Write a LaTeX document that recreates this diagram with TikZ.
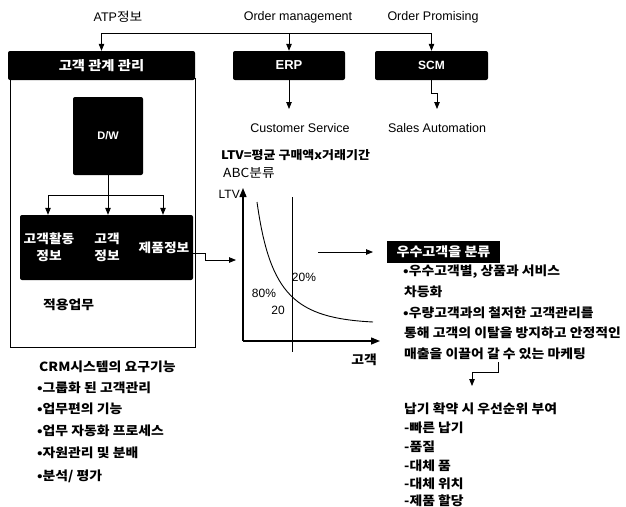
\documentclass[tikz,border=0pt]{standalone}
\usepackage{fontspec}
\setmainfont{Liberation Sans}
\newfontfamily\kr[FakeStretch=1.1]{Noto Sans CJK KR}
\usetikzlibrary{arrows.meta}
\begin{document}
\begin{tikzpicture}[x=1pt,y=-1pt,
  blackbox/.style={fill=black,text=white,rounded corners=2pt,inner sep=0pt},
  lat/.style={font=\fontsize{12.5}{14}\selectfont,inner sep=0pt},
  krl/.style={font=\kr\bfseries\fontsize{12.6}{14}\selectfont,inner sep=0pt,anchor=west},
  krc/.style={font=\kr\bfseries\fontsize{12.5}{17}\selectfont,inner sep=0pt,align=center,text=white},
  arr/.style={-{Triangle[length=7pt,width=5.5pt]},line width=0.8pt},
  ln/.style={line width=0.8pt}]
\useasboundingbox (0,0) rectangle (626,506);

% top labels
\node[lat] (atp) at (118,17) {ATP{\kr 정보}};
\node[lat] (om) at (298,17) {Order management};
\node[lat] (op) at (433,17) {Order Promising};

% big frame
\draw[ln] (10,78) rectangle (195,347);

% top black boxes
\node[blackbox,minimum width=187,minimum height=29,font=\kr\bfseries\fontsize{13}{15}\selectfont] (crm) at (101.5,65.5) {고객 관계 관리};
\node[blackbox,minimum width=112,minimum height=29,font=\bfseries\fontsize{13}{15}\selectfont] (erp) at (289,65.5) {ERP};
\node[blackbox,minimum width=113,minimum height=29,font=\bfseries\fontsize{12}{14}\selectfont] (scm) at (431.5,65.5) {SCM};

% top distribution line
\coordinate (jl) at (101.5,33);
\coordinate (jr) at (431.5,33);
\draw[ln] (jl) -- (jr);
\draw[arr] (jl) -- (crm.north);
\draw[arr] (erp.north |- jl) -- (erp.north);
\draw[arr] (jr) -- (scm.north);

% outputs of ERP / SCM
\node[lat] (cs) at (300,128) {Customer Service};
\node[lat] (sa) at (437,128) {Sales Automation};
\coordinate (csTip) at (289,109);
\coordinate (saTip) at (437,109);
\draw[arr] (erp.south) -- (csTip);
\draw[arr] (scm.south) -- ++(0,13) -| (saTip);

% D/W
\node[blackbox,minimum width=70,minimum height=78,font=\bfseries\fontsize{11}{13}\selectfont] (dw) at (108,136) {D/W};

% info box
\node[blackbox,minimum width=173,minimum height=65] (info) at (106.5,247.5) {};
\node[krc] (i1) at (49,247) {고객활동\\정보};
\node[krc] (i2) at (107,247) {고객\\정보};
\node[krc] (i3) at (164,248) {제품정보};

\coordinate (b1) at (48,195);
\coordinate (b2) at (108,195);
\coordinate (b3) at (163,195);
\draw[ln] (dw.south) -- (b2);
\draw[ln] (b1) -- (b3);
\draw[arr] (b1) -- (b1 |- info.north);
\draw[arr] (b2) -- (b2 |- info.north);
\draw[arr] (b3) -- (b3 |- info.north);

\node[krl] (apply) at (43,305) {적용업무};

% link to graph
\coordinate (gIn) at (236,260);
\draw[arr] (info.east |- 0,253) -- (205,253) -- (205,260) -- (gIn);

% graph
\node[krl,font=\kr\bfseries\fontsize{11.8}{14}\selectfont] (ltvf) at (221,155) {LTV=평균 구매액x거래기간};
\node[krl,font=\kr\fontsize{12.5}{14}\selectfont] (abc) at (223,173) {ABC분류};
\coordinate (org) at (243,341);
\coordinate (ytop) at (243,188);
\coordinate (xend) at (380,341);
\draw[-{Triangle[length=9pt,width=7pt]},line width=1.4pt] (org) -- (ytop);
\draw[-{Triangle[length=9pt,width=7pt]},line width=1.4pt] (org) -- (xend);
\node[lat,anchor=east,font=\fontsize{12}{14}\selectfont] (ltv) at (240,194) {LTV};
\coordinate (vt) at (292,197);
\coordinate (vb) at (292,352);
\draw[ln] (vt) -- (vb);
\draw[line width=0.9pt] (257,202) .. controls (270,295) and (295,318) .. (373,322);
\node[lat,font=\fontsize{12}{14}\selectfont] (p20) at (304,277) {20\%};
\node[lat,font=\fontsize{12}{14}\selectfont] (p80) at (264,293) {80\%};
\node[lat,font=\fontsize{12}{14}\selectfont] (n20) at (278,310) {20};
\node[krl,anchor=center] (cust) at (364,360) {고객};

\coordinate (ga) at (318,252);
\coordinate (gb) at (373,252);
\draw[arr] (ga) -- (gb);

% right side
\node[blackbox,rounded corners=0pt,minimum width=113,minimum height=22,font=\kr\bfseries\fontsize{12.8}{14}\selectfont] (vip) at (443.5,252) {우수고객을 분류};
\node[krl] (r1) at (403,272) {•우수고객별, 상품과 서비스};
\node[krl] (r2) at (404,292) {차등화};
\node[krl] (r3) at (403,313) {•우량고객과의 철저한 고객관리를};
\node[krl] (r4) at (404,333) {통해 고객의 이탈을 방지하고 안정적인};
\node[krl] (r5) at (404,354) {매출을 이끌어 갈 수 있는 마케팅};
\coordinate (ra) at (498,362);
\coordinate (rb) at (472,386);
\draw[arr] (ra) -- (498,372) -| (rb);
\node[krl] (d0) at (404,409) {납기 확약 시 우선순위 부여};
\node[krl] (d1) at (404,428) {-빠른 납기};
\node[krl] (d2) at (404,447) {-품질};
\node[krl] (d3) at (404,466) {-대체 품};
\node[krl] (d4) at (404,484) {-대체 위치};
\node[krl] (d5) at (404,501) {-제품 할당};

% bottom left
\node[krl] (req) at (39,367) {CRM시스템의 요구기능};
\node[krl] (q1) at (37,388) {•그룹화 된 고객관리};
\node[krl] (q2) at (37,409) {•업무편의 기능};
\node[krl] (q3) at (37,431) {•업무 자동화 프로세스};
\node[krl] (q4) at (37,453) {•자원관리 및 분배};
\node[krl] (q5) at (37,476) {•분석/ 평가};
\end{tikzpicture}
\end{document}
